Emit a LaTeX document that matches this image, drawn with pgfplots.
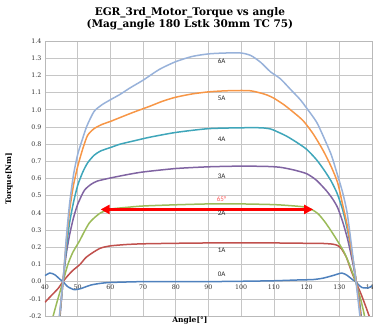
\documentclass[border=0pt]{standalone}
\usepackage{fontspec}
\setmainfont{DejaVu Serif}
\newfontfamily\calibri{Carlito}
\usepackage{pgfplots}
\pgfplotsset{compat=1.18}
\usetikzlibrary{arrows.meta}
\definecolor{c0}{HTML}{4F81BD}
\definecolor{c1}{HTML}{C0504D}
\definecolor{c2}{HTML}{9BBB59}
\definecolor{c3}{HTML}{8064A2}
\definecolor{c4}{HTML}{3FA6BA}
\definecolor{c5}{HTML}{F79646}
\definecolor{c6}{HTML}{98B2DA}
\begin{document}
\begin{tikzpicture}
\begin{axis}[
  scale only axis, width=327pt, height=275pt,
  xmin=40, xmax=140, ymin=-0.2, ymax=1.4,
  xtick={40,50,60,70,80,90,100,110,120,130,140},
  ytick={-0.2,-0.1,0,0.1,0.2,0.3,0.4,0.5,0.6,0.7,0.8,0.9,1.0,1.1,1.2,1.3,1.4},
  grid=major, grid style={gray!45, line width=0.6pt},
  axis line style={gray!55},
  major tick length=0pt,
  /pgf/number format/assume math mode=true,
  tick label style={font=\fontsize{6.3}{7}\selectfont, text=black!80},
  yticklabel style={/pgf/number format/.cd, fixed, fixed zerofill, precision=1},
  xticklabel style={yshift=34.4pt},
  title={EGR\_3rd\_Motor\_Torque vs angle\\(Mag\_angle 180 Lstk 30mm TC 75)},
  title style={align=center, font=\bfseries\fontsize{10.5}{12.5}\selectfont, at={(axis description cs:0.443,1)}, anchor=south, yshift=1pt},
  xlabel={Angle[°]},
  xlabel style={font=\bfseries\fontsize{7.5}{8}\selectfont, at={(axis description cs:0.443,0)}, anchor=north, inner sep=1pt},
  ylabel={Torque[Nm]},
  ylabel style={font=\bfseries\fontsize{7.5}{8}\selectfont, at={(axis description cs:-0.088,0.5)}, anchor=south},
  every axis plot/.append style={line width=1.5pt, smooth, tension=0.4},
  clip=true,
]
\coordinate (bl) at (rel axis cs:0,0);
\coordinate (tr) at (rel axis cs:1,1);
% 0A
\addplot[c0] coordinates {(40,0.035)(41.5,0.05)(43,0.04)(44.5,0.015)(45.5,0)(47,-0.03)(49,-0.047)(51,-0.04)(54,-0.02)(57,-0.01)(60,-0.005)(70,0)(80,0)(90,0)(100,0.002)(110,0.005)(118,0.01)(122,0.012)(125,0.02)(128,0.035)(130.8,0.05)(132.5,0.035)(134,0.012)(135,0)(136,-0.02)(137,-0.035)(138.8,-0.037)(140,-0.025)};
% 1A
\addplot[c1] coordinates {(40,-0.12)(42,-0.08)(44,-0.04)(45.5,0)(47,0.035)(48.5,0.065)(50.7,0.1)(52.5,0.14)(54.7,0.17)(57,0.195)(60,0.208)(65,0.216)(70,0.22)(80,0.223)(90,0.225)(100,0.226)(110,0.225)(120,0.223)(125,0.222)(128,0.218)(129.5,0.21)(130.7,0.19)(132.2,0.14)(133.7,0.06)(135,0)(136.5,-0.065)(138,-0.14)(139.5,-0.22)};
% 2A
\addplot[c2] coordinates {(42.2,-0.22)(43.8,-0.11)(45.5,0)(47,0.1)(48.5,0.17)(50.5,0.235)(52,0.29)(53.5,0.34)(55,0.37)(57,0.4)(60,0.422)(65,0.432)(70,0.44)(80,0.447)(90,0.452)(100,0.452)(110,0.448)(115,0.442)(119,0.435)(121.5,0.42)(123.5,0.395)(125.5,0.35)(127.5,0.295)(129.5,0.235)(131.5,0.17)(133.3,0.09)(135,0)(136.5,-0.1)(137.5,-0.18)(138.2,-0.25)};
% 3A
\addplot[c3] coordinates {(44.4,-0.25)(45.5,0)(46.5,0.16)(47.5,0.27)(48.7,0.37)(50,0.45)(52,0.53)(54,0.565)(56,0.585)(60,0.603)(65,0.622)(70,0.638)(80,0.658)(90,0.668)(100,0.672)(108,0.67)(112,0.665)(116,0.65)(120,0.628)(123,0.59)(126,0.53)(128,0.48)(129.5,0.43)(131,0.35)(132.5,0.25)(134,0.12)(135.2,0)(136.2,-0.12)(137,-0.25)};
% 4A
\addplot[c4] coordinates {(44.3,-0.25)(45.5,0)(46.5,0.19)(47.5,0.34)(48.7,0.46)(50,0.56)(51.5,0.635)(53,0.69)(55,0.735)(57,0.76)(60,0.78)(63,0.80)(67,0.818)(72,0.84)(80,0.868)(90,0.89)(100,0.895)(106,0.895)(109,0.888)(111.5,0.868)(114,0.845)(117,0.81)(120,0.77)(123,0.71)(125.5,0.645)(127.5,0.585)(129.3,0.515)(131,0.42)(132.5,0.3)(134,0.15)(135.2,0)(136.2,-0.14)(136.8,-0.25)};
% 5A
\addplot[c5] coordinates {(44.2,-0.25)(45.5,0)(46.5,0.23)(47.5,0.41)(48.7,0.56)(50,0.67)(51.5,0.77)(53,0.85)(55,0.89)(57.5,0.915)(60,0.932)(63,0.955)(67,0.985)(72,1.02)(76,1.05)(80,1.073)(85,1.092)(90,1.104)(95,1.11)(100,1.112)(103,1.11)(106,1.097)(108,1.085)(110,1.067)(113,1.03)(116,0.985)(119,0.935)(122,0.86)(125,0.765)(127.5,0.67)(129.5,0.575)(131,0.45)(132.5,0.32)(134,0.15)(135.2,0)(136.2,-0.15)(136.8,-0.25)};
% 6A
\addplot[c6] coordinates {(44.1,-0.25)(45.5,0)(46.5,0.25)(47.5,0.45)(48.7,0.62)(50,0.74)(51.3,0.82)(52.8,0.905)(55,0.99)(57.5,1.03)(60,1.058)(63,1.09)(66,1.127)(70,1.172)(75,1.235)(80,1.28)(85,1.31)(90,1.325)(95,1.33)(100,1.33)(103,1.315)(106,1.275)(109,1.22)(112,1.18)(115,1.12)(118,1.06)(120,1.01)(123,0.93)(125,0.85)(127.5,0.74)(129.3,0.63)(131,0.52)(132.4,0.4)(133.8,0.2)(135.1,0)(136,-0.15)(136.6,-0.25)};
% arrow and labels
\draw[red, line width=2.2pt, {Triangle[length=9pt,width=9pt]}-{Triangle[length=9pt,width=9pt]}] (axis cs:57,0.42) -- (axis cs:122,0.42);
\begin{scope}[every node/.style={font=\calibri\fontsize{7}{8}\selectfont, text=black!85}]
\node at (axis cs:94,1.285) {6A};
\node at (axis cs:94,1.065) {5A};
\node at (axis cs:94,0.83) {4A};
\node at (axis cs:94,0.615) {3A};
\node[text=red!65] at (axis cs:94,0.478) {65°};
\node at (axis cs:94,0.40) {2A};
\node at (axis cs:94,0.18) {1A};
\node at (axis cs:94,0.04) {0A};
\end{scope}
\end{axis}
\pgfresetboundingbox
\path[use as bounding box] ([shift={(-45pt,-10pt)}]bl) rectangle ([shift={(1pt,41pt)}]tr);
\end{tikzpicture}
\end{document}
